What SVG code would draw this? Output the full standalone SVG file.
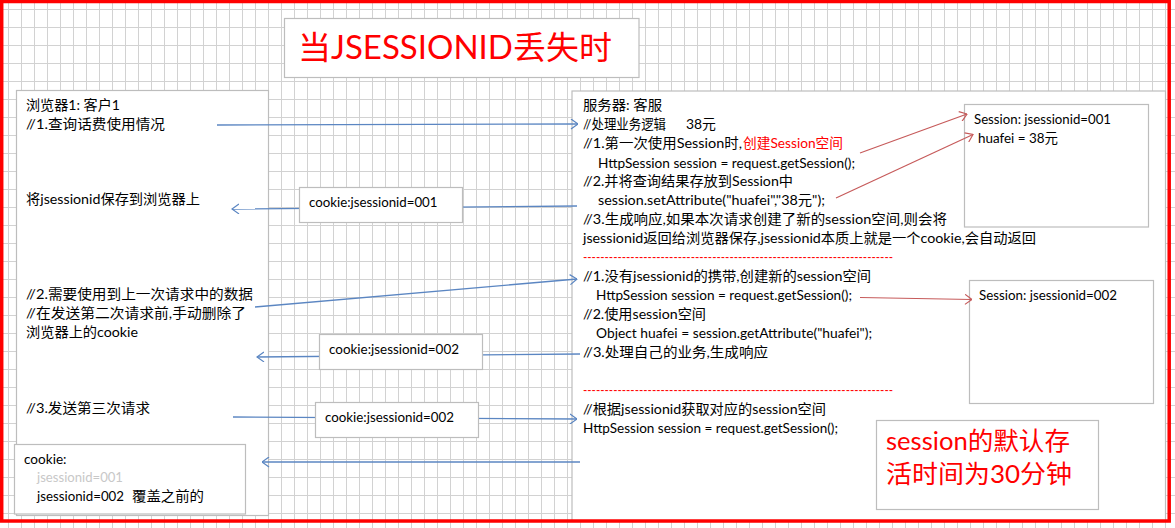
<svg xmlns="http://www.w3.org/2000/svg" width="1175" height="528" viewBox="0 0 1175 528">
<defs>
<style>
.t{font-family:Lato,"Noto Sans CJK SC",sans-serif;font-size:13.5px;fill:#000}
.r{fill:#ff0000}
.g{fill:#c8c8c8}
.box{fill:#fff;stroke:#bdbdbd;stroke-width:1.2}
.cb{fill:none;stroke:#5b86c2;stroke-width:1.3}
.cr{fill:none;stroke:#c65a5a;stroke-width:1.2}
</style>
<pattern id="grid" x="8" y="9" width="13" height="18" patternUnits="userSpaceOnUse">
<path d="M0 0.5H13M0.5 0V18" stroke="#d2d2d2" stroke-width="1" fill="none"/>
</pattern>
<marker id="ab" viewBox="0 0 8 11" refX="7.5" refY="5.5" markerWidth="8" markerHeight="11" markerUnits="userSpaceOnUse" orient="auto">
<path d="M0.5 0.5L7.5 5.5L0.5 10.5" fill="none" stroke="#5b86c2" stroke-width="1.2"/>
</marker>
<marker id="ar" viewBox="0 0 8 11" refX="7.5" refY="5.5" markerWidth="8" markerHeight="11" markerUnits="userSpaceOnUse" orient="auto">
<path d="M0.5 0.5L7.5 5.5L0.5 10.5" fill="none" stroke="#c65a5a" stroke-width="1.2"/>
</marker>
</defs>
<rect width="1175" height="528" fill="#fff"/>
<rect width="1175" height="528" fill="url(#grid)"/>

<g id="title">
<rect class="box" x="284.5" y="18.5" width="354.5" height="59"/>
<text class="t r" x="298" y="59" style="font-size:32px" textLength="314" lengthAdjust="spacingAndGlyphs">当JSESSIONID丢失时</text>
</g>

<g id="browser">
<rect class="box" x="16.5" y="90.5" width="252" height="425"/>
<text class="t" x="26" y="110" textLength="94" lengthAdjust="spacingAndGlyphs">浏览器1: 客户1</text>
<text class="t" x="26" y="129" textLength="139" lengthAdjust="spacingAndGlyphs">//1.查询话费使用情况</text>
<text class="t" x="26" y="204" textLength="174" lengthAdjust="spacingAndGlyphs">将jsessionid保存到浏览器上</text>
<text class="t" x="26" y="299" textLength="227" lengthAdjust="spacingAndGlyphs">//2.需要使用到上一次请求中的数据</text>
<text class="t" x="26" y="318" textLength="220" lengthAdjust="spacingAndGlyphs">//在发送第二次请求前,手动删除了</text>
<text class="t" x="26" y="337" textLength="112" lengthAdjust="spacingAndGlyphs">浏览器上的cookie</text>
<text class="t" x="26" y="412.5" textLength="124" lengthAdjust="spacingAndGlyphs">//3.发送第三次请求</text>
</g>

<g id="server">
<rect class="box" x="572" y="91" width="593.5" height="430"/>
<text class="t" x="583" y="110" textLength="79" lengthAdjust="spacingAndGlyphs">服务器: 客服</text>
<text class="t" x="583" y="129" textLength="83" lengthAdjust="spacingAndGlyphs">//处理业务逻辑</text>
<text class="t" x="686" y="129" textLength="30" lengthAdjust="spacingAndGlyphs">38元</text>
<text class="t" x="583" y="148" textLength="159" lengthAdjust="spacingAndGlyphs">//1.第一次使用Session时,</text>
<text class="t r" x="743" y="148" textLength="100" lengthAdjust="spacingAndGlyphs">创建Session空间</text>
<text class="t" x="598" y="167.5" textLength="257" lengthAdjust="spacingAndGlyphs">HttpSession session = request.getSession();</text>
<text class="t" x="583" y="186" textLength="210" lengthAdjust="spacingAndGlyphs">//2.并将查询结果存放到Session中</text>
<text class="t" x="598" y="205" textLength="227" lengthAdjust="spacingAndGlyphs">session.setAttribute("huafei","38元");</text>
<text class="t" x="583" y="224" textLength="364" lengthAdjust="spacingAndGlyphs">//3.生成响应,如果本次请求创建了新的session空间,则会将</text>
<text class="t" x="583" y="242.5" textLength="453" lengthAdjust="spacingAndGlyphs">jsessionid返回给浏览器保存,jsessionid本质上就是一个cookie,会自动返回</text>
<text class="t r" x="583" y="261.5" textLength="310" lengthAdjust="spacingAndGlyphs">------------------------------------------------------------------------</text>
<text class="t" x="583" y="281" textLength="288" lengthAdjust="spacingAndGlyphs">//1.没有jsessionid的携带,创建新的session空间</text>
<text class="t" x="596" y="300" textLength="256" lengthAdjust="spacingAndGlyphs">HttpSession session = request.getSession();</text>
<text class="t" x="583" y="319" textLength="123" lengthAdjust="spacingAndGlyphs">//2.使用session空间</text>
<text class="t" x="596" y="338" textLength="276" lengthAdjust="spacingAndGlyphs">Object huafei = session.getAttribute("huafei");</text>
<text class="t" x="583" y="357" textLength="185" lengthAdjust="spacingAndGlyphs">//3.处理自己的业务,生成响应</text>
<text class="t r" x="583" y="395" textLength="310" lengthAdjust="spacingAndGlyphs">------------------------------------------------------------------------</text>
<text class="t" x="583" y="414" textLength="243" lengthAdjust="spacingAndGlyphs">//根据jsessionid获取对应的session空间</text>
<text class="t" x="583" y="433" textLength="255" lengthAdjust="spacingAndGlyphs">HttpSession session = request.getSession();</text>
</g>

<g id="session1">
<rect class="box" x="964.5" y="104.5" width="184" height="122.5"/>
<text class="t" x="974" y="123.5" textLength="137" lengthAdjust="spacingAndGlyphs">Session: jsessionid=001</text>
<text class="t" x="978" y="142.5" textLength="80" lengthAdjust="spacingAndGlyphs">huafei = 38元</text>
</g>

<g id="session2">
<rect class="box" x="969.5" y="280.5" width="184" height="123"/>
<text class="t" x="979" y="300" textLength="138" lengthAdjust="spacingAndGlyphs">Session: jsessionid=002</text>
</g>

<g id="note">
<rect class="box" x="876.5" y="420.5" width="222" height="89"/>
<text class="t r" x="886" y="450" style="font-size:25px" textLength="184" lengthAdjust="spacingAndGlyphs">session的默认存</text>
<text class="t r" x="886" y="483" style="font-size:25px" textLength="186" lengthAdjust="spacingAndGlyphs">活时间为30分钟</text>
</g>

<g id="connectors">
<line class="cb" x1="217" y1="125" x2="578" y2="124" marker-end="url(#ab)"/>
<line class="cb" x1="577" y1="206" x2="232" y2="209" marker-end="url(#ab)"/>
<line class="cb" x1="255" y1="307" x2="577" y2="279" marker-end="url(#ab)"/>
<line class="cb" x1="580" y1="354" x2="257" y2="357" marker-end="url(#ab)"/>
<line class="cb" x1="233" y1="417" x2="577" y2="419" marker-end="url(#ab)"/>
<line class="cb" x1="580" y1="462" x2="262" y2="462" marker-end="url(#ab)"/>
<line class="cr" x1="860" y1="153" x2="967" y2="114" marker-end="url(#ar)"/>
<line class="cr" x1="836" y1="198" x2="973" y2="134.5" marker-end="url(#ar)"/>
<line class="cr" x1="860" y1="297.5" x2="972" y2="299.5" marker-end="url(#ar)"/>
</g>

<g id="cookie1">
<rect class="box" x="299.5" y="187.5" width="163" height="35"/>
<text class="t" x="309" y="207" textLength="128.5" lengthAdjust="spacingAndGlyphs">cookie:jsessionid=001</text>
</g>
<g id="cookie2">
<rect class="box" x="319.5" y="334.5" width="163" height="35"/>
<text class="t" x="329" y="354" textLength="130" lengthAdjust="spacingAndGlyphs">cookie:jsessionid=002</text>
</g>
<g id="cookie3">
<rect class="box" x="315.5" y="402.5" width="163" height="35"/>
<text class="t" x="325" y="421.5" textLength="129" lengthAdjust="spacingAndGlyphs">cookie:jsessionid=002</text>
</g>

<g id="cookiestore">
<rect class="box" x="14.5" y="444.5" width="231" height="69.5"/>
<text class="t" x="24" y="464" textLength="42.5" lengthAdjust="spacingAndGlyphs">cookie:</text>
<text class="t g" x="37" y="482" textLength="86" lengthAdjust="spacingAndGlyphs">jsessionid=001</text>
<text class="t" x="37" y="501" textLength="87" lengthAdjust="spacingAndGlyphs">jsessionid=002</text>
<text class="t" x="132" y="501" textLength="72" lengthAdjust="spacingAndGlyphs">覆盖之前的</text>
</g>

<rect x="1.7" y="1.5" width="1167.5" height="519.5" fill="none" stroke="#ff0000" stroke-width="3.5"/>
</svg>
